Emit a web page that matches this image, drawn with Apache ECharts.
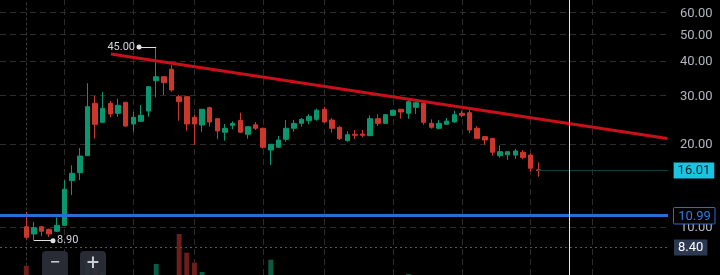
<!DOCTYPE html>
<html><head><meta charset="utf-8">
<script src="https://cdn.jsdelivr.net/npm/echarts@6/dist/echarts.min.js"></script>
<style>html,body{margin:0;padding:0;background:#000;}#c{width:720px;height:275px;}</style>
</head><body><div id="c"></div>
<script>
// ---- data (index = bar number) ----
const opens  = [10.00,9.41,10.00,9.79,9.63,10.12,14.70,15.72,18.12,28.08,23.96,28.08,25.83,28.32,23.62,24.16,26.33,33.92,35.07,37.33,29.68,29.68,24.98,23.42,27.07,24.69,22.04,23.35,24.36,21.67,23.46,22.79,19.00,19.44,20.78,22.79,23.75,24.28,24.56,26.71,24.42,22.98,20.54,21.67,21.72,21.42,24.69,23.75,25.41,26.71,25.83,27.16,28.08,23.75,22.79,23.56,24.02,25.83,25.96,22.79,21.25,20.95,18.12,18.26,18.21,18.64,18.21,16.10];
const closes = [9.16,9.92,9.63,9.41,10.12,13.68,15.64,18.07,27.30,23.56,26.93,25.69,27.62,23.22,24.98,25.41,32.27,35.07,33.37,31.38,28.47,23.62,23.62,26.71,24.02,22.28,22.79,23.75,22.04,23.09,22.79,19.44,19.93,20.66,22.79,23.75,24.56,25.18,26.49,24.02,22.79,20.89,21.60,21.49,21.49,24.69,23.75,25.53,26.49,26.11,28.47,28.22,23.96,22.98,23.75,24.20,25.53,25.41,22.46,20.95,20.66,18.64,18.74,18.74,18.85,17.85,16.31,16.01];
const lows   = [9.00,8.90,9.26,9.20,9.57,10.10,13.04,14.78,18.10,20.89,23.80,24.98,25.10,23.10,22.14,24.10,25.10,29.53,30.10,30.94,24.28,22.33,19.82,22.14,23.09,20.78,20.54,22.59,22.00,20.89,22.46,19.21,16.76,19.40,20.37,22.14,23.09,23.62,24.28,23.88,21.96,20.66,20.37,20.83,21.13,21.40,23.22,23.62,25.25,24.69,24.69,25.69,23.46,22.71,22.59,23.42,23.88,24.98,21.85,20.83,19.86,18.12,17.81,17.49,17.64,17.59,15.85,15.20];
const highs  = [11.31,10.41,10.05,9.84,10.82,14.78,16.72,19.32,33.20,29.85,30.86,28.63,29.18,28.40,26.11,27.68,32.40,45.00,35.20,38.70,30.10,29.85,25.47,26.80,27.30,24.80,23.62,24.16,25.96,23.20,24.02,22.90,20.00,21.36,24.42,24.42,24.83,25.69,26.85,27.30,24.83,23.22,22.22,22.46,22.46,25.41,25.69,25.69,26.60,26.80,28.87,28.47,28.55,24.56,24.42,24.83,26.40,26.40,26.50,23.22,21.36,21.00,19.76,18.85,19.18,19.00,18.50,17.15];
const volumes = [0.93,0,0,0,0,0,0,0,1.53,0.83,0.23,0,0,0,0,0,0,1.1,0,0,4.1,2.23,1.23,0.3,0,0,0,0,0,0,0,0,1.53,0,0,0,0,0,0,0,0,0,0,0,0,0,0,0,0,0,0.1,0,0,0,0,0,0,0,0,0,0,0,0,0,0,0,0,0];
const priceTicks = [10, 20, 30, 40, 50, 60];
const timeGridIdx = [5, 14, 22, 31, 39, 48, 57, 66, 74];
const lastPrice = 16.01;
const supportLevel = 10.99;
const dottedLevel = 8.40;
const trendStart = [11.08, 42.42];
const trendEnd = [83.9, 20.92];
const cursorIdx = 71.05;
const highMark = { idx: 17, value: 45.00, labelIdx: 14.75 };
const lowMark = { idx: 1, value: 8.90, labelIdx: 3.49 };

// ---- layout ----
const XMIN = -3.4415, XMAX = 83.97;
const YMIN = 6.68, YMAX = 66.63;
const GREEN = '#0a966e', RED = '#cc372c', BLUE = '#2a6bd8';
const FONT = 'Roboto, "Noto Sans", sans-serif';

const candleData = opens.map((o, i) => [i, o, closes[i], lows[i], highs[i]]);
const volData = volumes.map((v, i) => ({
  value: [i, v],
  itemStyle: { color: closes[i] >= opens[i] ? '#0b5a42' : '#6b1e1a' }
}));
// axis labels (kind 0) followed by the support price tag (kind 1), drawn in this order
const axisTextData = priceTicks.map(v => [XMAX, v, 0]).concat([[XMAX, supportLevel, 1]]);

const chart = echarts.init(document.getElementById('c'), null, { renderer: 'canvas' });
chart.setOption({
  animation: false,
  backgroundColor: '#000000',
  grid: [
    { left: 0, right: 52, top: 0, bottom: 0 },
    { left: 0, right: 52, top: 200, bottom: 0 }
  ],
  xAxis: [
    { type: 'value', gridIndex: 0, min: XMIN, max: XMAX, show: false },
    { type: 'value', gridIndex: 1, min: XMIN, max: XMAX, show: false }
  ],
  yAxis: [
    { type: 'log', logBase: 10, gridIndex: 0, min: YMIN, max: YMAX, position: 'right',
      axisLine: { show: true, lineStyle: { color: '#3a3a3a', type: [2, 3], width: 1 } },
      axisTick: { show: false }, axisLabel: { show: false }, splitLine: { show: false } },
    { type: 'value', gridIndex: 1, min: 0, max: 7.5, show: false }
  ],
  series: [
    {
      type: 'line', xAxisIndex: 0, yAxisIndex: 0, data: [], silent: true,
      markLine: {
        silent: true, animation: false, z: 1, symbol: ['none', 'none'],
        lineStyle: { color: '#2c2c2c', type: [6, 4], width: 1 },
        label: { show: false },
        data: [
          ...priceTicks.map(v => ({ yAxis: v })),
          ...timeGridIdx.map(x => ({ xAxis: x }))
        ]
      }
    },
    {
      type: 'bar', xAxisIndex: 1, yAxisIndex: 1, barWidth: 5, z: 1, data: volData, silent: true
    },
    {
      type: 'candlestick', xAxisIndex: 0, yAxisIndex: 0, barWidth: 5, z: 3,
      encode: { x: 0, y: [1, 2, 3, 4] },
      itemStyle: { color: GREEN, color0: RED, borderColor: GREEN, borderColor0: RED, borderWidth: 1 },
      data: candleData
    },
    {
      type: 'line', xAxisIndex: 0, yAxisIndex: 0, data: [], silent: true,
      markLine: {
        silent: true, animation: false, z: 6, symbol: ['none', 'none'],
        label: { fontFamily: FONT, fontSize: 13, lineHeight: 13 },
        data: [
          [{ coord: trendStart }, { coord: trendEnd,
            lineStyle: { color: '#c8101a', width: 3, type: 'solid' }, label: { show: false } }],
          { yAxis: supportLevel, lineStyle: { color: BLUE, width: 3, type: 'solid' }, label: { show: false } },
          { yAxis: dottedLevel, lineStyle: { color: '#575757', width: 1, type: [2, 3] },
            label: { position: 'end', distance: 6, formatter: dottedLevel.toFixed(2), color: '#ffffff',
              backgroundColor: '#2c3850', padding: [2, 4, 1, 4] } },
          [{ coord: [67, lastPrice] }, { coord: [XMAX - 0.05, lastPrice],
            lineStyle: { color: '#123c45', width: 1, type: 'solid' },
            label: { position: 'end', distance: 6, formatter: lastPrice.toFixed(2), color: '#0a2530',
              backgroundColor: '#1cc4e2', padding: [2, 4, 1, 4] } }],
          { xAxis: cursorIdx, lineStyle: { color: '#e6e6e6', width: 1, type: 'solid' }, label: { show: false } },
          [{ coord: [highMark.labelIdx, highMark.value], symbol: 'circle', symbolSize: 5 },
           { coord: [highMark.idx, highMark.value],
             lineStyle: { color: '#e0e0e0', width: 1, type: 'solid' },
             label: { position: 'start', distance: 4, formatter: highMark.value.toFixed(2), color: '#d1d4dc', fontSize: 11 } }],
          [{ coord: [lowMark.idx, lowMark.value] },
           { coord: [lowMark.labelIdx, lowMark.value], symbol: 'circle', symbolSize: 5,
             lineStyle: { color: '#e0e0e0', width: 1, type: 'solid' },
             label: { position: 'end', distance: 4, formatter: lowMark.value.toFixed(2), color: '#d1d4dc', fontSize: 11 } }]
        ]
      }
    },
    {
      type: 'custom', xAxisIndex: 0, yAxisIndex: 0, silent: true, z: 8, clip: false,
      data: axisTextData,
      encode: { x: 0, y: 1 },
      renderItem: (params, api) => {
        const p = api.coord([api.value(0), api.value(1)]);
        const txt = api.value(1).toFixed(2);
        if (api.value(2) === 1) {
          return {
            type: 'group',
            children: [
              { type: 'rect', shape: { x: p[0] + 5.5, y: p[1] - 8, width: 41.5, height: 16.5, r: 1 },
                style: { fill: '#000', stroke: BLUE, lineWidth: 1 } },
              { type: 'text', x: p[0] + 26.5, y: p[1] + 0.8,
                style: { text: txt, fill: '#2f7ae5', font: '13px ' + FONT, align: 'center', verticalAlign: 'middle' } }
            ]
          };
        }
        return {
          type: 'text', x: p[0] + 12, y: p[1] + 1,
          style: { text: txt, fill: '#b2b5be', font: '13px ' + FONT, align: 'left', verticalAlign: 'middle' }
        };
      }
    }
  ],
  graphic: [
    { type: 'rect', left: 42, top: 251, z: 100, shape: { width: 26, height: 30, r: 4 }, style: { fill: 'rgba(44,47,56,0.92)' } },
    { type: 'rect', left: 80, top: 251, z: 100, shape: { width: 26, height: 30, r: 4 }, style: { fill: 'rgba(44,47,56,0.92)' } },
    { type: 'text', x: 55, y: 264, z: 101, style: { text: '−', fill: '#c9ccd4', font: '20px ' + FONT, align: 'center', verticalAlign: 'middle' } },
    { type: 'text', x: 93, y: 264, z: 101, style: { text: '+', fill: '#c9ccd4', font: '22px ' + FONT, align: 'center', verticalAlign: 'middle' } }
  ]
});
</script>
</body></html>
